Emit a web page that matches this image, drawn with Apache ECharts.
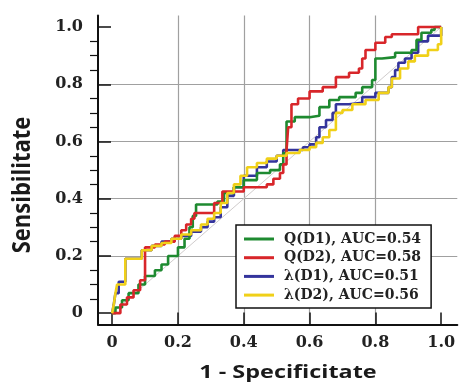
<!DOCTYPE html>
<html>
<head>
<meta charset="utf-8">
<script src="https://cdn.jsdelivr.net/npm/echarts@6/dist/echarts.min.js"></script>
<style>
  html, body { margin: 0; padding: 0; background: #fff; }
  #chart { width: 459px; height: 387px; }
</style>
</head>
<body>
<div id="chart"></div>
<script>
// ROC curves: [1 - specificity, sensitivity] at each rise of the staircase
const qD1 = [[0,0],[0.01,0.02],[0.03,0.045],[0.05,0.07],[0.08,0.10],[0.10,0.13],[0.13,0.15],[0.15,0.17],[0.17,0.20],[0.20,0.23],[0.22,0.26],[0.235,0.30],[0.245,0.34],[0.255,0.38],[0.32,0.39],[0.34,0.42],[0.37,0.44],[0.40,0.465],[0.44,0.49],[0.48,0.50],[0.51,0.52],[0.52,0.56],[0.53,0.67],[0.555,0.685],[0.60,0.69],[0.63,0.72],[0.66,0.745],[0.69,0.755],[0.74,0.77],[0.76,0.79],[0.79,0.815],[0.80,0.89],[0.82,0.895],[0.86,0.91],[0.91,0.92],[0.925,0.955],[0.94,0.98],[0.97,0.99],[0.98,1.0],[1.0,1.0]];
const qD2 = [[0,0],[0.025,0.03],[0.045,0.055],[0.065,0.08],[0.085,0.115],[0.10,0.23],[0.13,0.24],[0.16,0.25],[0.19,0.27],[0.21,0.29],[0.225,0.31],[0.24,0.33],[0.25,0.35],[0.31,0.385],[0.335,0.425],[0.40,0.44],[0.47,0.45],[0.49,0.47],[0.51,0.49],[0.52,0.52],[0.53,0.57],[0.535,0.65],[0.545,0.73],[0.565,0.75],[0.60,0.775],[0.64,0.79],[0.68,0.825],[0.72,0.84],[0.75,0.855],[0.76,0.89],[0.77,0.92],[0.80,0.945],[0.83,0.965],[0.85,0.975],[0.93,1.0],[1.0,1.0]];
const lD1 = [[0,0],[0.005,0.03],[0.01,0.07],[0.02,0.11],[0.04,0.19],[0.09,0.22],[0.12,0.235],[0.15,0.25],[0.18,0.26],[0.21,0.27],[0.24,0.285],[0.27,0.30],[0.29,0.32],[0.31,0.335],[0.33,0.37],[0.35,0.41],[0.37,0.44],[0.40,0.48],[0.44,0.51],[0.47,0.53],[0.50,0.55],[0.52,0.57],[0.58,0.58],[0.60,0.59],[0.62,0.615],[0.63,0.65],[0.65,0.675],[0.67,0.70],[0.68,0.73],[0.72,0.735],[0.76,0.755],[0.80,0.77],[0.84,0.79],[0.85,0.825],[0.86,0.85],[0.87,0.875],[0.89,0.89],[0.91,0.91],[0.93,0.95],[0.96,0.97],[1.0,1.0]];
const lD2 = [[0,0],[0.005,0.03],[0.01,0.07],[0.015,0.10],[0.04,0.19],[0.09,0.22],[0.12,0.235],[0.15,0.245],[0.18,0.26],[0.21,0.275],[0.24,0.29],[0.27,0.31],[0.29,0.33],[0.31,0.35],[0.33,0.385],[0.35,0.42],[0.37,0.45],[0.39,0.48],[0.41,0.51],[0.44,0.525],[0.47,0.54],[0.50,0.55],[0.53,0.56],[0.57,0.57],[0.60,0.58],[0.62,0.595],[0.64,0.615],[0.66,0.64],[0.68,0.70],[0.70,0.71],[0.73,0.73],[0.77,0.745],[0.81,0.77],[0.84,0.79],[0.85,0.82],[0.875,0.855],[0.90,0.88],[0.92,0.90],[0.96,0.92],[0.99,0.94],[1.0,1.0]];
const chance = [[0,0],[1,1]];

const seriesNames = ['Q(D1), AUC=0.54', 'Q(D2), AUC=0.58', 'λ(D1), AUC=0.51', 'λ(D2), AUC=0.56'];
const majorTicks = [0, 0.2, 0.4, 0.6, 0.8, 1.0];
const minorTicksY = [0.05,0.1,0.15,0.25,0.3,0.35,0.45,0.5,0.55,0.65,0.7,0.75,0.85,0.9,0.95];

const colors = { qD1: '#1e8a30', qD2: '#d8262a', lD1: '#34349c', lD2: '#f0d018' };

const tickFont = { fontFamily: 'DejaVu Serif', fontWeight: 'bold', fontSize: 16, color: '#222' };
const fmt = v => (v === 0 ? '0' : v.toFixed(1));

const chart = echarts.init(document.getElementById('chart'), null, { renderer: 'canvas' });

const stepLine = (name, data, color) => ({
  name, type: 'line', step: 'end', data, symbol: 'none', silent: true,
  lineStyle: { color, width: 2.6 }, itemStyle: { color }
});

chart.setOption({
  animation: false,
  backgroundColor: '#fff',
  grid: { left: 98, top: 15.6, width: 359.3, height: 309, containLabel: false },
  xAxis: [{
    type: 'value', min: -0.043, max: 1.049, splitNumber: 5,
    axisLine: { show: true, onZero: false, lineStyle: { color: '#111', width: 2 } },
    axisTick: { show: true, inside: true, length: 12, customValues: majorTicks, lineStyle: { color: '#111', width: 1.5 } },
    axisLabel: { customValues: majorTicks, margin: 10, formatter: fmt, ...tickFont },
    splitLine: { show: true, showMinLine: false, showMaxLine: false, lineStyle: { color: '#a0a0a0', width: 1.2 } }
  }, {
    // hidden helper axis whose zero sits on the left edge, anchoring the minor-tick axis
    type: 'value', min: 0, max: 1, show: false
  }],
  yAxis: [{
    type: 'value', min: -0.04, max: 1.04, splitNumber: 5,
    axisLine: { show: true, onZero: false, lineStyle: { color: '#111', width: 2 } },
    axisTick: { show: true, inside: true, length: 13, customValues: majorTicks, lineStyle: { color: '#111', width: 1.5 } },
    axisLabel: { customValues: majorTicks, margin: 15, formatter: fmt, ...tickFont },
    splitLine: { show: true, showMinLine: false, showMaxLine: false, lineStyle: { color: '#a0a0a0', width: 1.2 } }
  }, {
    // minor ticks every 0.05 along the sensitivity axis
    type: 'value', min: -0.04, max: 1.04,
    axisLine: { show: false, onZero: true, onZeroAxisIndex: 1 },
    axisTick: { show: true, inside: true, length: 8, customValues: minorTicksY, lineStyle: { color: '#111', width: 1.2 } },
    axisLabel: { show: false },
    splitLine: { show: false }
  }],
  legend: {
    data: seriesNames,
    orient: 'vertical',
    left: 236, top: 225,
    padding: [7, 10, 6, 8],
    itemWidth: 30, itemHeight: 3, itemGap: 4.7,
    icon: 'rect',
    selectedMode: false,
    backgroundColor: '#fff',
    borderColor: '#111', borderWidth: 1.5, borderRadius: 0,
    textStyle: { fontFamily: 'DejaVu Serif', fontWeight: 'bold', fontSize: 14, lineHeight: 14, color: '#222', padding: [0, 0, 0, 5] }
  },
  graphic: [
    { type: 'text', x: 288, y: 373, scaleX: 1.3, silent: true,
      style: { text: '1 - Specificitate', font: 'bold 18px "Open Sans"', fill: '#1a1a1a', textAlign: 'center', textVerticalAlign: 'middle' } },
    { type: 'text', x: 23, y: 185, rotation: Math.PI / 2, scaleX: 1.1, scaleY: 1.25, silent: true,
      style: { text: 'Sensibilitate', font: 'bold 20px "Open Sans"', fill: '#1a1a1a', textAlign: 'center', textVerticalAlign: 'middle' } }
  ],
  series: [
    { name: 'chance', type: 'line', data: chance, symbol: 'none', silent: true,
      lineStyle: { color: '#d0cccc', width: 1 } },
    stepLine(seriesNames[2], lD1, colors.lD1),
    stepLine(seriesNames[0], qD1, colors.qD1),
    stepLine(seriesNames[1], qD2, colors.qD2),
    stepLine(seriesNames[3], lD2, colors.lD2)
  ]
});
</script>
</body>
</html>
